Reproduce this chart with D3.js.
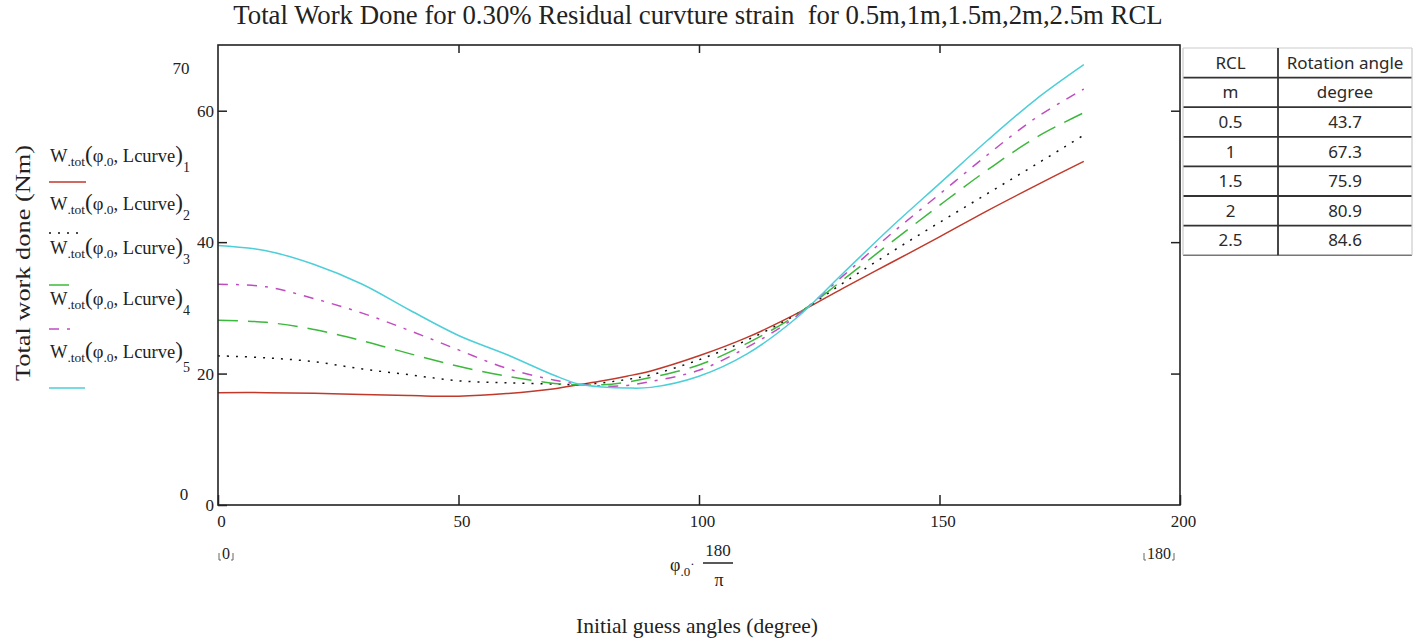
<!DOCTYPE html>
<html><head><meta charset="utf-8">
<script src="https://cdn.jsdelivr.net/npm/d3@7"></script>
<style>
html,body{margin:0;padding:0;background:#fff;}
svg{display:block;}
.serif{font-family:"Liberation Serif","Times New Roman",serif;fill:#222;}
.tbl{font-family:"Noto Sans",sans-serif;fill:#2a2a2a;}
</style></head>
<body>
<svg id="chart" width="1418" height="642"></svg>
<script>
// ---------- DATA ----------
const phi = [0,10,20,30,40,50,60,70,75,80,85,90,100,110,120,130,140,150,160,170,180];
const w1 = [17.1,17.1,17.0,16.8,16.65,16.55,16.95,17.7,18.3,18.9,19.6,20.4,22.7,25.5,29.0,33.0,36.9,40.8,44.8,48.6,52.3];
const w2 = [22.7,22.4,21.8,20.7,19.8,18.9,18.6,18.4,18.3,18.6,19.1,19.8,22.1,25.1,28.9,33.8,38.5,43.0,47.4,51.8,56.3];
const w3 = [28.1,27.8,26.7,25.0,23.0,21.1,19.6,18.5,18.3,18.3,18.7,19.4,21.3,24.6,28.8,34.3,40.0,45.6,51.0,55.9,59.7];
const w4 = [33.6,33.2,31.4,29.2,26.5,23.6,20.8,19.0,18.4,18.1,18.2,18.8,20.5,24.0,28.6,34.9,41.3,47.3,53.3,58.9,63.3];
const w5 = [39.5,38.7,36.6,33.6,29.6,25.8,22.9,19.7,18.4,17.95,17.8,17.9,19.6,23.0,28.3,35.3,42.3,48.9,55.5,61.7,67.0];
const seriesIdx = ["1","2","3","4","5"];
const xTicks = [0,50,100,150,200];
const yTicks = [0,20,40,60];
const xRange = [0,180];
const tableRCL = ["0.5","1","1.5","2","2.5"];
const tableAngle = ["43.7","67.3","75.9","80.9","84.6"];
const tableHead1 = ["RCL","Rotation angle"];
const tableHead2 = ["m","degree"];
const titleText = "Total Work Done for 0.30% Residual curvture strain  for 0.5m,1m,1.5m,2m,2.5m RCL";
const xLabel = "Initial guess angles (degree)";
const yLabel = "Total work done (Nm)";

// ---------- STYLE ----------
const series = [w1,w2,w3,w4,w5];
const colors = ["#c0392b","#111111","#3cb83c","#c04cc0","#4ccfd8"];
const dashes = [null,"2,7","20,10","10,8,3,8",null];
const legendBase = [162,210,254,305,358];
const legendLineY = [182,233,285,329,388];
const legendLineLen = [37,30,24,26,36];

const svg = d3.select("#chart");
const L=218, R=1180, T=45, B=505;
const x = d3.scaleLinear().domain([0,200]).range([L,R]);
const y = d3.scaleLinear().domain([0,70]).range([B,T]);

// Title
const title = svg.append("text").attr("class","serif").attr("x",698).attr("y",24)
  .attr("text-anchor","middle").style("font-size","21px").style("white-space","pre").text(titleText);
const tl = title.node().getComputedTextLength();
title.style("font-size",(21*930/tl)+"px");

// Curves
const line = d3.line().x((d,i)=>x(phi[i])).y(d=>y(d)).curve(d3.curveCatmullRom.alpha(0.5));
series.forEach((s,k)=>{
  svg.append("path").attr("d",line(s)).attr("fill","none")
    .attr("stroke",colors[k]).attr("stroke-width",1.5)
    .attr("stroke-dasharray",dashes[k]);
});

// Frame
svg.append("rect").attr("x",L).attr("y",T).attr("width",R-L).attr("height",B-T)
  .attr("fill","none").attr("stroke","#222").attr("stroke-width",1.6);

// Axes
const fmt = d=>String(d);
const gx = svg.append("g").attr("transform",`translate(0,${B})`)
  .call(d3.axisBottom(x).tickValues(xTicks).tickFormat(fmt).tickSizeInner(-10).tickSizeOuter(0).tickPadding(10));
const gy = svg.append("g").attr("transform",`translate(${L},0)`)
  .call(d3.axisLeft(y).tickValues(yTicks).tickFormat(fmt).tickSizeInner(-9).tickSizeOuter(0).tickPadding(4));
svg.append("g").attr("transform",`translate(0,${T})`)
  .call(d3.axisTop(x).tickValues(xTicks.slice(1,4)).tickFormat("").tickSizeInner(-8).tickSizeOuter(0));
svg.append("g").attr("transform",`translate(${R},0)`)
  .call(d3.axisRight(y).tickValues(yTicks.slice(1)).tickFormat("").tickSizeInner(-9).tickSizeOuter(0));
svg.selectAll(".domain").remove();
svg.selectAll(".tick line").attr("stroke","#222").attr("stroke-width",1.5);
svg.selectAll(".tick text").attr("class","serif").attr("fill","#222")
  .style("font-family","'Liberation Serif',serif").style("font-size","17px");
gx.selectAll(".tick text").attr("dx","3");

// Mathcad limit labels
svg.append("text").attr("class","serif").attr("x",181).attr("y",74).attr("text-anchor","middle")
  .style("font-size","17px").text(y.domain()[1]);
svg.append("text").attr("class","serif").attr("x",184).attr("y",500).attr("text-anchor","middle")
  .style("font-size","17px").text(y.domain()[0]);
[[226,xRange[0]],[1159,xRange[1]]].forEach(([cx,v])=>{
  const t = svg.append("text").attr("class","serif").attr("x",cx).attr("y",559).attr("text-anchor","middle")
    .style("font-size","16px").text(v);
  const w = t.node().getComputedTextLength();
  const a = cx - w/2 - 3, b = cx + w/2 + 3;
  svg.append("path").attr("d",`M${a},553 L${a},560 L${a+2},560 M${b},553 L${b},560 L${b-2},560`)
    .attr("fill","none").attr("stroke","#666").attr("stroke-width",1);
});

// X expression  φ.0 · 180/π
const ex = svg.append("text").attr("class","serif").attr("x",670).attr("y",571).style("font-size","18px");
ex.append("tspan").text("φ");
ex.append("tspan").attr("dy",5).style("font-size","13px").text(".0");
ex.append("tspan").attr("dy",-8).style("font-size","13px").text("·");
svg.append("text").attr("class","serif").attr("x",718).attr("y",556).attr("text-anchor","middle")
  .style("font-size","17px").text("180");
svg.append("line").attr("x1",703).attr("x2",733).attr("y1",563).attr("y2",563).attr("stroke","#222").attr("stroke-width",1.5);
svg.append("text").attr("class","serif").attr("x",719).attr("y",586).attr("text-anchor","middle")
  .style("font-size","18px").text("π");

// Axis titles
svg.append("text").attr("class","serif").attr("x",697).attr("y",633).attr("text-anchor","middle")
  .style("font-size","21.5px").text(xLabel);
svg.append("text").attr("class","serif").attr("transform","translate(30,263) rotate(-90)")
  .attr("text-anchor","middle").style("font-size","22px")
  .attr("textLength",236).attr("lengthAdjust","spacingAndGlyphs").text(yLabel);

// Legend
seriesIdx.forEach((s,k)=>{
  const t = svg.append("text").attr("class","serif").attr("x",50).attr("y",legendBase[k]).style("font-size","18.5px");
  t.append("tspan").text("W");
  t.append("tspan").attr("dy",4).style("font-size","13.5px").text(".tot");
  t.append("tspan").attr("dy",-4).style("font-size","23px").text("(");
  t.append("tspan").text("φ");
  t.append("tspan").attr("dy",4).style("font-size","13.5px").text(".0");
  t.append("tspan").attr("dy",-4).text(", Lcurve");
  t.append("tspan").style("font-size","23px").text(")");
  t.append("tspan").attr("dy",k===4?14:10).style("font-size","14px").text(s);
  svg.append("line").attr("x1",49).attr("x2",49+legendLineLen[k])
    .attr("y1",legendLineY[k]).attr("y2",legendLineY[k])
    .attr("stroke",colors[k]).attr("stroke-width",1.5).attr("stroke-dasharray",dashes[k]);
});

// Table
const tx0=1183, tx1=1278, tx2=1412;
const rows = [tableHead1, tableHead2].concat(tableRCL.map((r,i)=>[r,tableAngle[i]]));
const rowH = 29.6, ty0 = 48;
rows.forEach((r,i)=>{
  const cy = ty0 + rowH*(i+0.5);
  svg.append("text").attr("class","tbl").attr("x",(tx0+tx1)/2).attr("y",cy+6)
    .attr("text-anchor","middle").style("font-size","17px").text(r[0]);
  svg.append("text").attr("class","tbl").attr("x",(tx1+tx2)/2).attr("y",cy+6)
    .attr("text-anchor","middle").style("font-size","17px").text(r[1]);
});
const tyEnd = ty0 + rowH*rows.length;
svg.append("line").attr("x1",tx0).attr("x2",tx2).attr("y1",ty0).attr("y2",ty0).attr("stroke","#ccc").attr("stroke-width",1.2);
d3.range(1,rows.length).forEach(i=>{
  svg.append("line").attr("x1",tx0).attr("x2",tx2).attr("y1",ty0+rowH*i).attr("y2",ty0+rowH*i)
    .attr("stroke","#333").attr("stroke-width",1.8);
});
svg.append("line").attr("x1",tx0).attr("x2",tx2).attr("y1",tyEnd).attr("y2",tyEnd).attr("stroke","#777").attr("stroke-width",1.4);
svg.append("line").attr("x1",tx0).attr("x2",tx0).attr("y1",ty0).attr("y2",tyEnd).attr("stroke","#ccc").attr("stroke-width",1.2);
svg.append("line").attr("x1",tx2).attr("x2",tx2).attr("y1",ty0).attr("y2",tyEnd).attr("stroke","#ccc").attr("stroke-width",1.2);
svg.append("line").attr("x1",tx1).attr("x2",tx1).attr("y1",ty0).attr("y2",tyEnd).attr("stroke","#333").attr("stroke-width",1.8);
</script>
</body></html>
